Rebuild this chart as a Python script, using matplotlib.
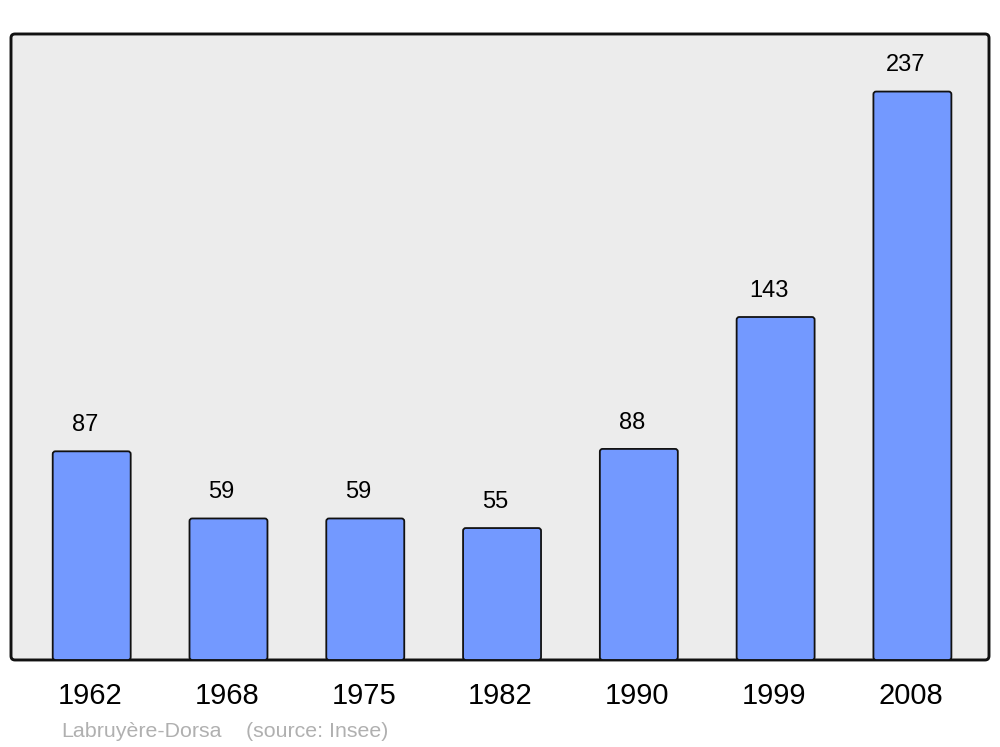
import matplotlib.pyplot as plt
from matplotlib.patches import FancyBboxPatch

years = ["1962", "1968", "1975", "1982", "1990", "1999", "2008"]
population = [87, 59, 59, 55, 88, 143, 237]
commune = "Labruyère-Dorsa"
source = "(source: Insee)"

plt.rcParams['font.family'] = ['Liberation Sans', 'DejaVu Sans']

fig = plt.figure(figsize=(10, 7.47), dpi=100)
ax = fig.add_axes([0.011, 0.1165, 0.978, 0.838])
ax.set_facecolor('none')
ax.set_zorder(2)
for s in ax.spines.values():
    s.set_visible(False)

# rounded frame with grey fill, drawn behind the axes
frame = FancyBboxPatch((0.011, 0.1165), 0.978, 0.838,
                       boxstyle="round,pad=0,rounding_size=0.004",
                       mutation_aspect=1000 / 747,
                       transform=fig.transFigure, facecolor='#ececec',
                       edgecolor='#111111', linewidth=2.1, zorder=-1)
fig.patches.append(frame)

ax.set_xlim(-0.59, 6.56)
ax.set_ylim(0, 261)
width = 0.57
x = list(range(len(years)))
bars = ax.bar(x, population, width=width, alpha=0)
for b, v in zip(bars, population):
    p = FancyBboxPatch((b.get_x(), 0), b.get_width(), v,
                       boxstyle="round,pad=0,rounding_size=0.02",
                       mutation_aspect=57,
                       facecolor='#7399ff', edgecolor='#111111',
                       linewidth=1.3, zorder=3)
    ax.add_patch(p)
    ax.text(b.get_x() + b.get_width() / 2 - 0.05, v + 10.9, str(v),
            ha='center', va='center', fontsize=17, color='black')

ax.set_xticks([i - 0.012 for i in x])
ax.set_xticklabels(years, fontsize=21)
ax.tick_params(axis='x', length=0, pad=16)
ax.set_yticks([])

fig.text(0.061, 0.021, commune, fontsize=15.4, color='#b0b0b0',
         ha='left', va='center')
fig.text(0.246, 0.021, source, fontsize=15.4, color='#b0b0b0',
         ha='left', va='center')

fig.savefig('out.png', dpi=100)
